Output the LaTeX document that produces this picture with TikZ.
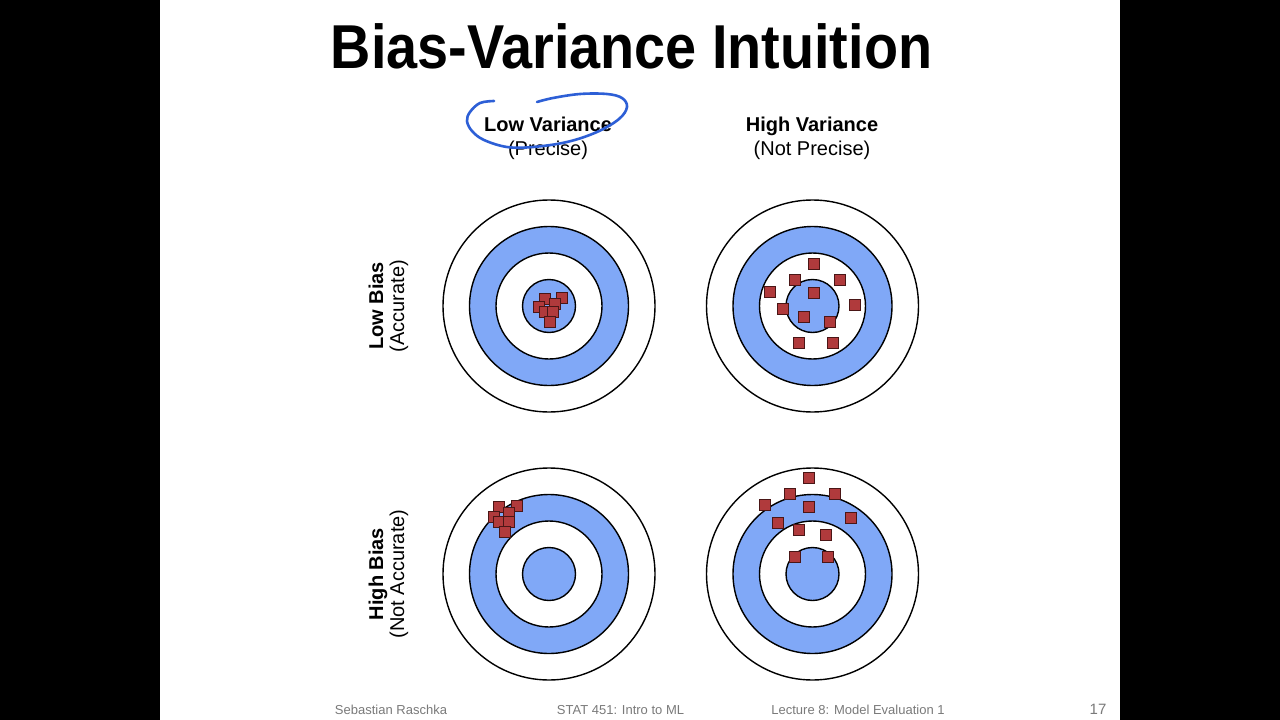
\documentclass[tikz,border=0pt]{standalone}
\usepackage{fontspec}
\setmainfont{Liberation Sans}
\usepackage{tikz}
\usetikzlibrary{positioning}
\definecolor{ringblue}{HTML}{80A8F7}
\definecolor{hitred}{HTML}{B03A3C}
\definecolor{hitedge}{HTML}{4A1616}
\definecolor{penblue}{HTML}{2D5FD6}
\definecolor{footgray}{HTML}{7A7A7A}
\tikzset{
  ringline/.style={draw=black, line width=1.4pt, fill=#1},
  ringline/.default=white,
  hit/.style={rectangle, draw=hitedge, fill=hitred, line width=0.8pt,
    minimum size=11pt, inner sep=0pt},
  slidetitle/.style={font=\fontsize{62}{66}\selectfont\bfseries, inner sep=0pt},
  colhead/.style={font=\fontsize{20}{24}\selectfont\bfseries, inner sep=0pt},
  colsub/.style={font=\fontsize{20}{24}\selectfont, inner sep=0pt},
  foot/.style={font=\fontsize{13}{15}\selectfont, text=footgray, inner sep=0pt},
  pen/.style={draw=penblue, line width=2.6pt, line cap=round, line join=round},
}
\newcommand{\drawtarget}[1]{%
  \draw[ringline] (#1) circle[radius=106pt];
  \draw[ringline=ringblue] (#1) circle[radius=79.5pt];
  \draw[ringline] (#1) circle[radius=53pt];
  \draw[ringline=ringblue] (#1) circle[radius=26.5pt];
}

\begin{document}
\begin{tikzpicture}[x=1pt, y=-1pt]
    \useasboundingbox (0,0) rectangle (1280,720);
    \fill[black] (0,0) rectangle (160,720);
    \fill[white] (160,0) rectangle (1120,720);
    \fill[black] (1120,0) rectangle (1280,720);

    \node[slidetitle, anchor=base] (title) at (631.5,68)
        {\scalebox{0.9}[1]{Bias-Variance Intuition}};

    % column and row headings
    \node[colhead, anchor=base] (lowvar) at (548,131) {Low Variance};
    \node[colsub, anchor=base] (precise) at (548,155) {(Precise)};
    \node[colhead, anchor=base] (highvar) at (812,131) {High Variance};
    \node[colsub, anchor=base] (notprecise) at (812,155) {(Not Precise)};
    \node[colhead, rotate=90, anchor=base] (lowbias) at (383,306) {Low Bias};
    \node[colsub, rotate=90, anchor=base] (accurate) at (404,306) {(Accurate)};
    \node[colhead, rotate=90, anchor=base] (highbias) at (383,574) {High Bias};
    \node[colsub, rotate=90, anchor=base] (notaccurate) at (404,574) {(Not Accurate)};

    % the four targets
    \coordinate (tl) at (549,306);
    \coordinate (tr) at (812.5,306);
    \coordinate (bl) at (549,574);
    \coordinate (br) at (812.5,574);
    \drawtarget{tl}
    \drawtarget{tr}
    \drawtarget{bl}
    \drawtarget{br}

    % hits
    \foreach \x/\y [count=\i] in {545/299, 562/298, 539/307, 555/304,
                                  545/312, 553/312, 550/322}
        \node[hit] (tlhit\i) at (\x,\y) {};
    \foreach \x/\y [count=\i] in {813.7/264, 794.7/280, 840/280, 769.7/292,
                                  813.7/293, 855/305, 782.7/309.3, 803.7/316.7,
                                  830/321.7, 799/343, 832.7/343}
        \node[hit] (trhit\i) at (\x,\y) {};
    \foreach \x/\y [count=\i] in {499.3/507.3, 516.7/505.7, 494/516.7, 509.3/513.3,
                                  499.3/521.7, 509.3/521.7, 505.3/531.7}
        \node[hit] (blhit\i) at (\x,\y) {};
    \foreach \x/\y [count=\i] in {809.3/477.7, 790/493.7, 835/493.7, 765.3/505.3,
                                  809.3/507, 850.7/518.3, 778.3/523, 799/530.3,
                                  825.7/534.7, 795/556.7, 828.3/556.7}
        \node[hit] (brhit\i) at (\x,\y) {};

    % hand-drawn circle round the heading
    \draw[pen] plot[smooth, tension=0.6] coordinates {
        (494,101) (480,103) (470,112) (467,121) (472,131) (484,140)
        (507,147) (533,147) (567,142) (597,132) (619,119) (627,107)
        (622,98) (607,94) (580,94) (553,98) (537,102)};

    % footer
    \node[foot, anchor=base] (author) at (391,714) {Sebastian Raschka};
    \node[foot, anchor=base] (course) at (620.5,714) {STAT 451: Intro to ML};
    \node[foot, anchor=base] (lecture) at (858,714) {Lecture 8: Model Evaluation 1};
    \node[foot, font=\fontsize{15}{17}\selectfont, anchor=base] (page) at (1098,714) {17};
\end{tikzpicture}
\end{document}
